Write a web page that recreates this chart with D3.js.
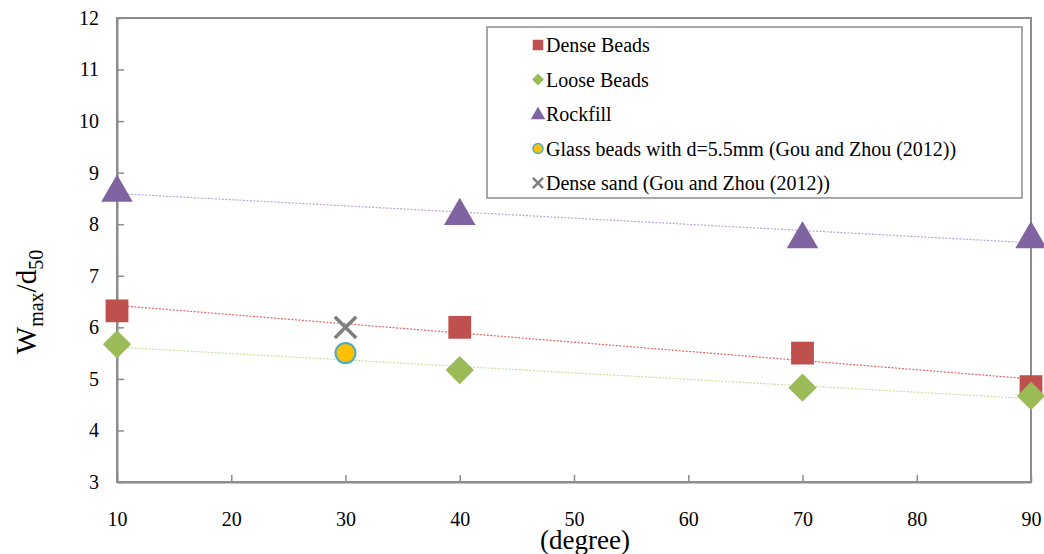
<!DOCTYPE html>
<html>
<head>
<meta charset="utf-8">
<script src="https://cdn.jsdelivr.net/npm/d3@7"></script>
<style>
  body { margin: 0; background: #fff; }
</style>
</head>
<body>
<script>
var angles = [10, 40, 70, 90];
var denseBeads = [6.32, 6.0, 5.5, 4.85];
var looseBeads = [5.67, 5.17, 4.83, 4.67];
var rockfill = [8.65, 8.2, 7.75, 7.75];
var glassBeads = [{ x: 30, y: 5.5 }];
var denseSand = [{ x: 30, y: 6.0 }];
var xTicks = [10, 20, 30, 40, 50, 60, 70, 80, 90];
var yTicks = [3, 4, 5, 6, 7, 8, 9, 10, 11, 12];

var serif = "'Liberation Serif', 'Times New Roman', 'DejaVu Serif', serif";

var margin = { top: 18, right: 13, bottom: 72, left: 117 },
    width = 1044 - margin.left - margin.right,
    height = 554 - margin.top - margin.bottom;

var x = d3.scaleLinear().domain([10, 90]).range([0, width]);
var y = d3.scaleLinear().domain([3, 12]).range([height, 0]);

var svg = d3.select("body").append("svg")
    .attr("width", 1044)
    .attr("height", 554)
    .style("font-family", serif);

var g = svg.append("g")
    .attr("transform", "translate(" + margin.left + "," + margin.top + ")");

// plot frame
g.append("rect")
    .attr("width", width).attr("height", height)
    .attr("fill", "none").attr("stroke", "#8c8c8c").attr("stroke-width", 2);

var xAxis = d3.axisBottom(x).tickValues(xTicks).tickSizeInner(-7).tickSizeOuter(0).tickPadding(30);
var yAxis = d3.axisLeft(y).tickValues(yTicks).tickSizeInner(-7).tickSizeOuter(0).tickPadding(18);

function styleAxis(sel) {
  sel.attr("font-family", null).attr("font-size", null);
  sel.select(".domain").attr("stroke", "#8c8c8c").attr("stroke-width", 2);
  sel.selectAll(".tick line").attr("stroke", "#8c8c8c").attr("stroke-width", 1.5);
  sel.selectAll(".tick text")
    .style("font-family", serif).style("font-size", "20px").attr("fill", "#000");
}

g.append("g").attr("transform", "translate(0," + height + ")").call(xAxis).call(styleAxis);
g.append("g").call(yAxis).call(styleAxis);

// linear trend lines (least squares from the data)
function fit(ys) {
  var mx = d3.mean(angles), my = d3.mean(ys);
  var sxy = d3.sum(angles, function (a, i) { return (a - mx) * (ys[i] - my); });
  var sxx = d3.sum(angles, function (a) { return (a - mx) * (a - mx); });
  var b = sxy / sxx;
  return function (a) { return my + b * (a - mx); };
}

var series = [
  { name: "Dense Beads", values: denseBeads, color: "#C0504D", trend: "#e06666", symbol: d3.symbolSquare, size: 520, rot: 0, dy: 0 },
  { name: "Loose Beads", values: looseBeads, color: "#9BBB59", trend: "#c5e0a0", symbol: d3.symbolSquare, size: 400, rot: 45, dy: 0 },
  { name: "Rockfill", values: rockfill, color: "#8064A2", trend: "#b9a3d6", symbol: d3.symbolTriangle, size: 430, rot: 0, dy: 2 }
];

series.forEach(function (s) {
  var f = fit(s.values);
  g.append("line")
    .attr("x1", x(10)).attr("y1", y(f(10)))
    .attr("x2", x(90)).attr("y2", y(f(90)))
    .attr("stroke", s.trend).attr("stroke-width", 1.2)
    .attr("stroke-dasharray", "2,1.5");
});

series.forEach(function (s) {
  g.selectAll(null).data(s.values).enter().append("path")
    .attr("d", d3.symbol().type(s.symbol).size(s.size))
    .attr("transform", function (d, i) {
      return "translate(" + x(angles[i]) + "," + (y(d) + s.dy) + ") rotate(" + s.rot + ")";
    })
    .attr("fill", s.color);
});

g.selectAll(".glass").data(glassBeads).enter().append("circle")
  .attr("cx", function (d) { return x(d.x); })
  .attr("cy", function (d) { return y(d.y); })
  .attr("r", 10)
  .attr("fill", "#FFC000").attr("stroke", "#4BACC6").attr("stroke-width", 2);

var cross = d3.symbol().type(d3.symbolX).size(300);
g.selectAll(".sand").data(denseSand).enter().append("path")
  .attr("d", cross)
  .attr("transform", function (d) { return "translate(" + x(d.x) + "," + y(d.y) + ")"; })
  .attr("fill", "none").attr("stroke", "#7F7F7F").attr("stroke-width", 3.5);

// legend
var legendItems = [
  { label: "Dense Beads", type: "square", color: "#C0504D" },
  { label: "Loose Beads", type: "diamond", color: "#9BBB59" },
  { label: "Rockfill", type: "triangle", color: "#8064A2" },
  { label: "Glass beads with d=5.5mm (Gou and Zhou (2012))", type: "circle", color: "#FFC000" },
  { label: "Dense sand (Gou and Zhou (2012))", type: "x", color: "#7F7F7F" }
];

var legend = svg.append("g").attr("transform", "translate(487,27)");
legend.append("rect")
  .attr("width", 535).attr("height", 171)
  .attr("fill", "#fff").attr("stroke", "#8c8c8c").attr("stroke-width", 1.5);

var li = legend.selectAll(".item").data(legendItems).enter().append("g")
  .attr("transform", function (d, i) { return "translate(0," + (18 + i * 34.5) + ")"; });

li.each(function (d) {
  var sel = d3.select(this);
  var cx = 51;
  if (d.type === "square") {
    sel.append("path").attr("d", d3.symbol().type(d3.symbolSquare).size(110)).attr("transform", "translate(" + cx + ",0)").attr("fill", d.color);
  } else if (d.type === "diamond") {
    sel.append("path").attr("d", d3.symbol().type(d3.symbolSquare).size(70)).attr("transform", "translate(" + cx + ",0) rotate(45)").attr("fill", d.color);
  } else if (d.type === "triangle") {
    sel.append("path").attr("d", d3.symbol().type(d3.symbolTriangle).size(90)).attr("transform", "translate(" + cx + ",1)").attr("fill", d.color);
  } else if (d.type === "circle") {
    sel.append("circle").attr("cx", cx).attr("r", 5).attr("fill", d.color).attr("stroke", "#4BACC6").attr("stroke-width", 1.5);
  } else {
    sel.append("path").attr("d", d3.symbol().type(d3.symbolX).size(70)).attr("transform", "translate(" + cx + ",0)").attr("fill", "none").attr("stroke", d.color).attr("stroke-width", 2.5);
  }
  sel.append("text").attr("x", 59).attr("y", 7)
    .style("font-family", serif).style("font-size", "20px").text(d.label);
});

// axis titles
var yl = svg.append("text")
  .attr("transform", "translate(36,302) rotate(-90)")
  .attr("text-anchor", "middle")
  .style("font-family", serif)
  .style("font-size", "29px");
yl.append("tspan").text("W");
yl.append("tspan").attr("dy", 7).style("font-size", "20px").text("max");
yl.append("tspan").attr("dy", -7).text("/d");
yl.append("tspan").attr("dy", 7).style("font-size", "20px").text("50");

svg.append("text")
  .attr("x", 585).attr("y", 549)
  .attr("text-anchor", "middle")
  .style("font-family", serif)
  .style("font-size", "27px")
  .text("(degree)");
</script>
</body>
</html>
